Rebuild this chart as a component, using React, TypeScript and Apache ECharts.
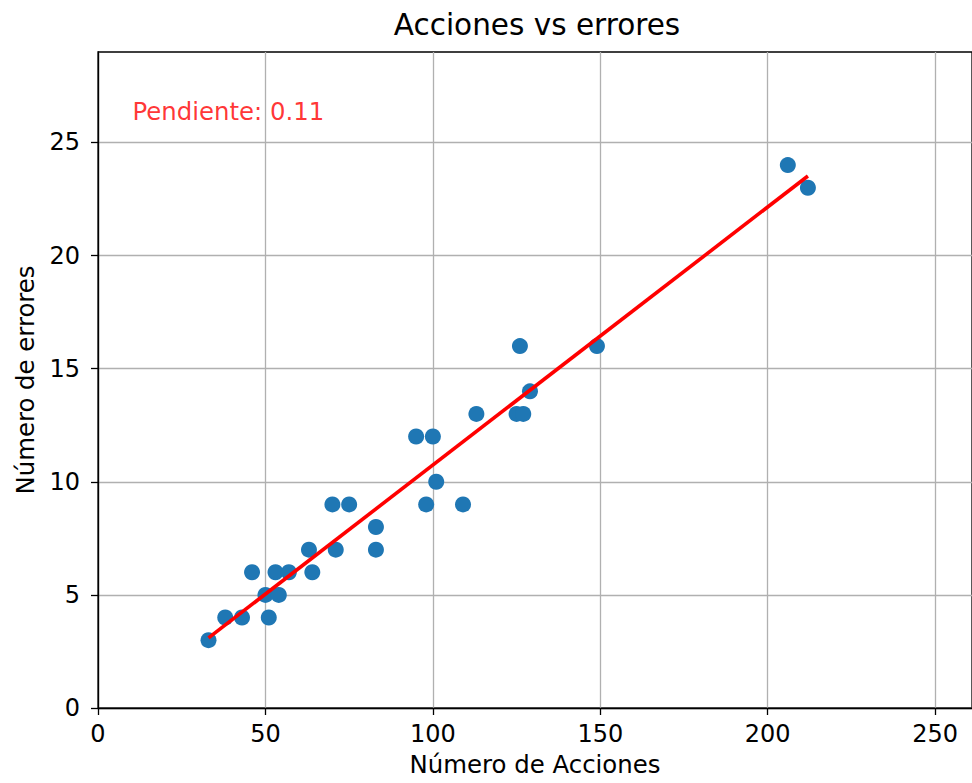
import React, { useEffect, useRef } from "react";
import * as echarts from "echarts";

const acciones = [33, 38, 43, 51, 50, 54, 46, 53, 57, 64, 63, 71, 83, 83, 70, 75, 98, 109, 101, 95, 100, 113, 125, 127, 129, 126, 149, 206, 212];
const errores = [3, 4, 4, 4, 5, 5, 6, 6, 6, 6, 7, 7, 7, 8, 9, 9, 9, 9, 10, 12, 12, 13, 13, 13, 14, 16, 16, 24, 23];
const xTicks = [0, 50, 100, 150, 200, 250];
const yTicks = [0, 5, 10, 15, 20, 25];
const annotationAt = [10, 26];
const annotationText = "Pendiente: 0.11";
const titleText = "Acciones vs errores";
const xName = "Número de Acciones";
const yName = "Número de errores";

function regression(xs: number[], ys: number[]) {
  const n = xs.length;
  const mx = xs.reduce((a, b) => a + b, 0) / n;
  const my = ys.reduce((a, b) => a + b, 0) / n;
  let sxy = 0, sxx = 0;
  for (let i = 0; i < n; i++) {
    sxy += (xs[i] - mx) * (ys[i] - my);
    sxx += (xs[i] - mx) * (xs[i] - mx);
  }
  const m = sxy / sxx;
  return { m, b: my - m * mx };
}

export default function App() {
  const ref = useRef<HTMLDivElement>(null);
  useEffect(() => {
    if (!ref.current) return;
    const chart = echarts.init(ref.current, null, { renderer: "svg" });
    const { m, b } = regression(acciones, errores);
    const xmin = Math.min(...acciones);
    const xmax = Math.max(...acciones);
    const font = "DejaVu Sans";
    const points = acciones.map((x, i) => [x, errores[i]]);
    chart.setOption({
      animation: false,
      backgroundColor: "#ffffff",
      textStyle: { fontFamily: font },
      grid: {
        left: 98,
        top: 52,
        width: 878,
        height: 656,
        show: true,
        borderColor: "#000000",
        borderWidth: 1.3,
        backgroundColor: "transparent",
      },
      graphic: [
        {
          type: "text",
          x: 537,
          y: 25,
          style: {
            text: titleText,
            fontFamily: font,
            fontSize: 29.5,
            fill: "#000000",
            align: "center",
            verticalAlign: "middle",
          },
        },
      ],
      xAxis: {
        type: "value",
        min: 0,
        max: 261,
        interval: 50,
        name: xName,
        nameLocation: "middle",
        nameGap: 44,
        nameTextStyle: { fontFamily: font, fontSize: 24.4, color: "#000" },
        axisLine: { show: true, lineStyle: { color: "#000", width: 1.3 } },
        axisTick: { show: true, length: 7, lineStyle: { color: "#000", width: 1.3 }, customValues: xTicks },
        axisLabel: { fontFamily: font, fontSize: 24, color: "#000", margin: 14, customValues: xTicks },
        splitLine: { show: true, lineStyle: { color: "#b0b0b0", width: 1.3 } },
      },
      yAxis: {
        type: "value",
        min: 0,
        max: 29,
        interval: 5,
        name: yName,
        nameLocation: "middle",
        nameGap: 61,
        nameTextStyle: { fontFamily: font, fontSize: 24.4, color: "#000" },
        axisLine: { show: true, lineStyle: { color: "#000", width: 1.3 } },
        axisTick: { show: true, length: 7, lineStyle: { color: "#000", width: 1.3 }, customValues: yTicks },
        axisLabel: { fontFamily: font, fontSize: 24, color: "#000", margin: 18, customValues: yTicks },
        splitLine: { show: true, lineStyle: { color: "#b0b0b0", width: 1.3 } },
      },
      series: [
        {
          type: "scatter",
          data: points,
          symbolSize: 16,
          itemStyle: { color: "#1f77b4", opacity: 1 },
          z: 2,
        },
        {
          type: "line",
          data: [
            [xmin, m * xmin + b],
            [xmax, m * xmax + b],
          ],
          symbol: "none",
          lineStyle: { color: "#ff0000", width: 3.6 },
          z: 3,
        },
        {
          type: "scatter",
          data: [annotationAt],
          symbolSize: 0,
          silent: true,
          label: {
            show: true,
            formatter: annotationText,
            position: [0, 0],
            align: "left",
            verticalAlign: "middle",
            offset: [1, -8],
            fontFamily: font,
            fontSize: 24.4,
            color: "#ff0000",
          },
          z: 4,
        },
      ],
    });
    return () => chart.dispose();
  }, []);
  return (
    <div
      ref={ref}
      style={{ position: "absolute", left: 0, top: 0, width: 972, height: 783 }}
    />
  );
}
